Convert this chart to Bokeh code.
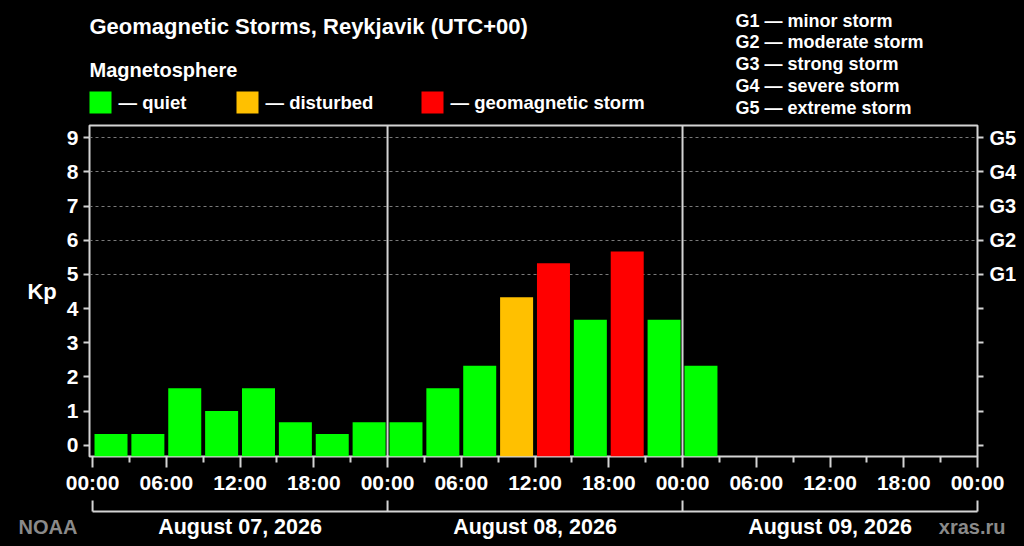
from bokeh.plotting import figure
from bokeh.layouts import column
from bokeh.models import Range1d, LinearAxis, FixedTicker, Grid, Span, ColumnDataSource
from bokeh.core.properties import value
from bokeh.embed import file_html
from bokeh.resources import INLINE

# ---------------- data ----------------
slot_start_hours = [0, 3, 6, 9, 12, 15, 18, 21, 24, 27, 30, 33, 36, 39, 42, 45, 48]
kp_values = [0.33, 0.33, 1.67, 1.0, 1.67, 0.67, 0.33, 0.67,
             0.67, 1.67, 2.33, 4.33, 5.33, 3.67, 5.67, 3.67,
             2.33]
time_ticks = [0, 6, 12, 18, 24, 30, 36, 42, 48, 54, 60, 66, 72]
time_labels = ["00:00", "06:00", "12:00", "18:00", "00:00", "06:00", "12:00", "18:00",
               "00:00", "06:00", "12:00", "18:00", "00:00"]
day_starts = [0, 24, 48, 72]
day_labels = ["August 07, 2026", "August 08, 2026", "August 09, 2026"]
kp_ticks = [0, 1, 2, 3, 4, 5, 6, 7, 8, 9]
g_levels = ["G1", "G2", "G3", "G4", "G5"]
g_descriptions = ["minor storm", "moderate storm", "strong storm", "severe storm", "extreme storm"]
categories = ["quiet", "disturbed", "geomagnetic storm"]
category_colors = ["#00ff00", "#ffc000", "#ff0000"]
kp_thresholds = [4, 5]  # Kp >= 4 disturbed, Kp >= 5 storm

FONT_NAME = "Liberation Sans"
FONT = value(FONT_NAME)
WHITE = "#ffffff"
LINE = "#d4d4d4"
GREY = "#8a8a8a"

W = 1024
HEAD_H, MAIN_H, FOOT_H = 118, 379, 49
ML, MR, MT, MB = 89, 47, 7, 41
X0, X1 = -0.25, 72
Y0, Y1 = -0.33, 9.36
PPH = (W - ML - MR) / (X1 - X0)  # pixels per hour


def bare(height, x_range, y_range):
    f = figure(width=W, height=height, x_range=x_range, y_range=y_range,
               x_axis_location=None, y_axis_location=None,
               toolbar_location=None, output_backend="svg",
               background_fill_color="black", border_fill_color="black",
               min_border=0, frame_align=False)
    f.outline_line_color = None
    f.xgrid.visible = False
    f.ygrid.visible = False
    return f


def txt(f, x, y, s, size, color=WHITE, align="left"):
    f.text(x=[x], y=[y], text=[s], text_font=FONT, text_font_size=size,
           text_font_style="bold", text_color=color, text_align=align,
           text_baseline="middle")


# ---------------- header (page pixel coordinates) ----------------
head = bare(HEAD_H, Range1d(0, W), Range1d(HEAD_H, 0))
txt(head, 89, 26, "Geomagnetic Storms, Reykjavik (UTC+00)", "22px")
txt(head, 89, 69, "Magnetosphere", "20px")
legend_x = [89, 236, 421]
for lx, c, col in zip(legend_x, categories, category_colors):
    head.quad(left=[lx], right=[lx + 22], top=[91], bottom=[113], fill_color=col, line_color=None)
    txt(head, lx + 29, 102, "— " + c, "18.5px")
for i, (g, d) in enumerate(zip(g_levels, g_descriptions)):
    txt(head, 735, 20 + i * 21.8, f"{g} — {d}", "18px")

# ---------------- main chart ----------------
p = figure(width=W, height=MAIN_H, x_range=Range1d(X0, X1), y_range=Range1d(Y0, Y1),
           x_axis_location=None, y_axis_location=None,
           toolbar_location=None, output_backend="svg",
           background_fill_color="black", border_fill_color="black",
           min_border_left=ML, min_border_right=MR, min_border_top=MT, min_border_bottom=MB)
p.outline_line_color = LINE
p.outline_line_width = 2
p.xgrid.visible = False
p.ygrid.visible = False

p.add_layout(Grid(dimension=1, ticker=FixedTicker(ticks=kp_ticks[5:]),
                  grid_line_color="#7a7a7a", grid_line_dash="3 3", grid_line_width=1))


def category_of(v):
    if v >= kp_thresholds[1]:
        return 2
    if v >= kp_thresholds[0]:
        return 1
    return 0


slot_hours = 3
bar_width = slot_hours * 0.895
for ci in range(len(categories)):
    xs = [s + slot_hours / 2 for s, v in zip(slot_start_hours, kp_values) if category_of(v) == ci]
    ts = [v for v in kp_values if category_of(v) == ci]
    src = ColumnDataSource(dict(x=xs, top=ts))
    p.vbar(x="x", top="top", bottom=Y0, width=bar_width, source=src,
           fill_color=category_colors[ci], line_color=None)

for d in day_starts[1:-1]:
    p.add_layout(Span(location=d, dimension="height", line_color=LINE, line_width=2))

common = dict(major_label_text_font=FONT_NAME, major_label_text_font_style="bold",
              major_label_text_color=WHITE, axis_line_color=None,
              major_tick_line_color=LINE, major_tick_line_width=2, major_tick_in=0)

ly = LinearAxis(ticker=FixedTicker(ticks=kp_ticks), axis_label="Kp",
                axis_label_orientation="horizontal", axis_label_standoff=7,
                axis_label_text_font=FONT_NAME, axis_label_text_font_size="22px",
                axis_label_text_font_style="bold", axis_label_text_color=WHITE,
                major_label_text_font_size="21px", major_label_standoff=5,
                major_tick_out=6, minor_tick_line_color=None, **common)
p.add_layout(ly, "left")

ry = LinearAxis(ticker=FixedTicker(ticks=kp_ticks),
                major_label_overrides={t: (g_levels[t - 5] if t >= 5 else "") for t in kp_ticks},
                major_label_text_font_size="20px", major_label_standoff=6,
                major_tick_out=6, minor_tick_line_color=None, **common)
p.add_layout(ry, "right")

minor_hours = [t + 3 for t in time_ticks[:-1]]
tx = LinearAxis(ticker=FixedTicker(ticks=time_ticks, minor_ticks=minor_hours),
                major_label_overrides={t: l for t, l in zip(time_ticks, time_labels)},
                major_label_text_font_size="21px", major_label_standoff=3,
                major_tick_out=11, minor_tick_line_color=LINE, minor_tick_line_width=2,
                minor_tick_out=6, minor_tick_in=0, **common)
p.add_layout(tx, "below")

# ---------------- footer (same hour scale as the chart) ----------------
fx0 = X0 - ML / PPH
fx1 = X1 + MR / PPH
foot = bare(FOOT_H, Range1d(fx0, fx1), Range1d(FOOT_H, 0))
BR_Y, BR_TOP = 14, 3
foot.segment(x0=[day_starts[0]], x1=[day_starts[-1]], y0=[BR_Y], y1=[BR_Y],
             line_color=LINE, line_width=2)
foot.segment(x0=day_starts, x1=day_starts, y0=[BR_Y] * len(day_starts), y1=[BR_TOP] * len(day_starts),
             line_color=LINE, line_width=2)
day_centers = [(a + b) / 2 for a, b in zip(day_starts[:-1], day_starts[1:])]
for c, l in zip(day_centers, day_labels):
    txt(foot, c, 29, l, "21.5px", align="center")
txt(foot, fx0 + 18 / PPH, 29, "NOAA", "20px", GREY)
txt(foot, fx1 - 19 / PPH, 29, "xras.ru", "20px", GREY, "right")

layout = column(head, p, foot, spacing=0)
html = file_html(layout, INLINE)
html = html.replace("<head>", "<head><style>body{background:#000000;}</style>", 1)
open("out.html", "w").write(html)
